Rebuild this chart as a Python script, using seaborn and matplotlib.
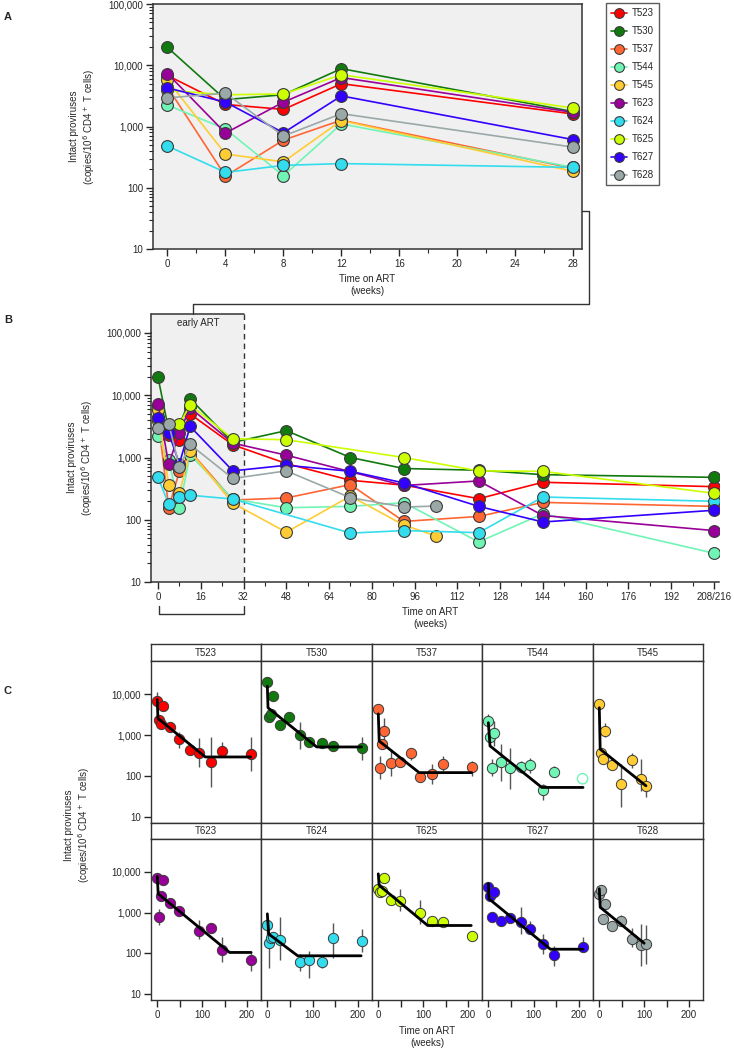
import numpy as np
import pandas as pd
import matplotlib
matplotlib.use("Agg")
import matplotlib.pyplot as plt
from matplotlib.lines import Line2D
from matplotlib.patches import Rectangle
from matplotlib.ticker import FuncFormatter, LogLocator, NullFormatter, MultipleLocator
import seaborn as sns

sns.set_style("ticks")
plt.rcParams['font.family'] = ['Liberation Sans', 'DejaVu Sans']
plt.rcParams['font.size'] = 7

# ---------------- data ----------------
participants = ["T523", "T530", "T537", "T544", "T545", "T623", "T624", "T625", "T627", "T628"]
colors = ["#ff0000", "#117a0e", "#ff6633", "#70f5b5", "#ffcc33",
          "#990099", "#33ddee", "#ccff00", "#3300ff", "#9aa8a8"]

weeks_T523 = [0, 4, 8, 12, 28, 48, 72, 92, 120, 144, 208]
vals_T523 = [6800, 2290, 1900, 5000, 1600, 800, 430, 360, 218, 400, 340]
weeks_T530 = [0, 4, 8, 12, 28, 48, 72, 92, 120, 144, 208]
vals_T530 = [19500, 2750, 3300, 8800, 1750, 2700, 1000, 665, 625, 530, 480]
weeks_T537 = [0, 4, 8, 12, 28, 48, 72, 92, 120, 144, 208]
vals_T537 = [4400, 155, 600, 1270, 207, 224, 367, 94, 113, 190, 164]
weeks_T544 = [0, 4, 8, 12, 28, 48, 72, 92, 120, 144, 208]
vals_T544 = [2240, 910, 157, 1100, 215, 156, 164, 188, 44, 125, 29]
weeks_T545 = [0, 4, 8, 12, 28, 48, 72, 92, 104]
vals_T545 = [5700, 355, 265, 1250, 185, 63, 240, 82, 55]
weeks_T623 = [0, 4, 8, 12, 28, 48, 92, 120, 144, 208]
vals_T623 = [7300, 780, 2500, 6300, 1700, 1090, 355, 420, 117, 67]
weeks_T624 = [0, 4, 8, 12, 28, 72, 92, 120, 144, 208]
vals_T624 = [480, 178, 232, 248, 215, 61, 67, 62, 232, 198]
weeks_T625 = [0, 4, 8, 12, 28, 48, 92, 120, 144, 208]
vals_T625 = [3900, 3300, 3400, 7000, 2000, 1930, 1000, 610, 600, 266]
weeks_T627 = [0, 4, 8, 12, 28, 48, 72, 92, 120, 144, 208]
vals_T627 = [4260, 2500, 790, 3160, 610, 750, 600, 390, 164, 92, 142]
weeks_T628 = [0, 4, 8, 12, 28, 48, 72, 92, 104]
vals_T628 = [2930, 3500, 700, 1620, 460, 610, 226, 160, 166]

nan = np.nan
# panel C error bars (low, high) aligned with the points above
lo_T523 = [4000, nan, nan, nan, nan, 490, nan, 165, 54, 310, 128]
hi_T523 = [11500, nan, nan, nan, nan, 1200, nan, 860, 890, 680, 890]
lo_T530 = [nan, nan, nan, nan, nan, nan, 450, nan, nan, nan, 245]
hi_T530 = [nan, nan, nan, nan, nan, nan, 2100, nan, nan, nan, 890]
lo_T537 = [nan, 83, nan, 590, 100, nan, 250, nan, 63, 130, 100]
hi_T537 = [nan, 310, nan, 2550, 410, nan, 470, nan, 190, 310, 230]
lo_T544 = [1500, nan, 100, 540, 75, 48, 120, 120, 25, 92, nan]
hi_T544 = [3200, nan, 255, 2200, 590, 490, 230, 280, 63, 175, nan]
lo_T545 = [nan, nan, nan, 870, nan, 17, 160, 43, 30]
hi_T545 = [nan, nan, nan, 2000, nan, 190, 370, 255, 75]
lo_T623 = [nan, 500, nan, nan, nan, nan, 220, nan, 60, 37]
hi_T623 = [nan, 1230, nan, nan, nan, nan, 660, nan, 245, 98]
lo_T624 = [245, 42, nan, nan, 68, 37, 24, 44, 78, 104]
hi_T624 = [770, 300, nan, nan, 770, 95, 115, 77, 540, 390]
lo_T625 = [2400, nan, nan, nan, nan, 1120, 520, nan, nan, 200]
hi_T625 = [7500, nan, nan, nan, nan, 3860, 2000, nan, nan, 360]
lo_T627 = [nan, nan, nan, nan, nan, nan, 300, 300, 95, 48, 105]
hi_T627 = [nan, nan, nan, nan, nan, nan, 1360, 630, 300, 150, 245]
lo_T628 = [nan, nan, nan, nan, nan, 480, 140, 49, 53]
hi_T628 = [nan, nan, nan, nan, nan, 890, 420, 520, 480]

# T544 last sample shown as excluded (open) point in panel C
excluded_T544_week = 208
excluded_T544_val = 85

# panel C fitted piecewise decay (knots)
fitw_T523 = [0, 1.5, 107, 208]; fitv_T523 = [7400, 2550, 290, 290]
fitw_T530 = [0, 1.5, 109, 208]; fitv_T530 = [15700, 4650, 510, 510]
fitw_T537 = [0, 2, 91, 208]; fitv_T537 = [3300, 713, 120, 120]
fitw_T544 = [0, 3.7, 118, 209]; fitv_T544 = [2000, 540, 52, 52]
fitw_T545 = [0, 2, 104]; fitv_T545 = [4650, 450, 57]
fitw_T623 = [0, 2, 161, 209]; fitv_T623 = [7800, 2900, 104, 104]
fitw_T624 = [0, 3, 67, 207]; fitv_T624 = [930, 296, 86, 86]
fitw_T625 = [0, 2, 110, 207]; fitv_T625 = [9000, 4680, 480, 480]
fitw_T627 = [0, 1.5, 137, 209]; fitv_T627 = [5140, 2180, 125, 125]
fitw_T628 = [0, 2, 100]; fitv_T628 = [3870, 1350, 175]

A_weeks = [0, 4, 8, 12, 28]
B_xticks = list(range(0, 209, 16))
B_xticklabels = [str(t) for t in B_xticks[:-1]] + ["208/216"]

G = globals()
rows = []
for p in participants:
    for w, v, lo, hi in zip(G["weeks_" + p], G["vals_" + p], G["lo_" + p], G["hi_" + p]):
        rows.append(dict(pid=p, week=w, value=v, lo=lo, hi=hi))
df = pd.DataFrame(rows)
pal = dict(zip(participants, colors))

# ---------------- figure ----------------
W, H = 734, 1050
fig = plt.figure(figsize=(W / 100, H / 100), dpi=100)


def box(l, t, r, b):
    return [l / W, 1 - b / H, (r - l) / W, (b - t) / H]


fmt = FuncFormatter(lambda v, p: f"{int(round(v)):,}")
EDGE = "#3a3a3a"
YLAB = "Intact proviruses\n(copies/10$^6$ CD4$^+$ T cells)"


def style_log_y(ax):
    ax.set_yscale("log")
    ax.set_ylim(10, 1e5)
    ax.yaxis.set_major_locator(LogLocator(base=10, numticks=10))
    ax.yaxis.set_minor_locator(LogLocator(base=10, subs=np.arange(2, 10), numticks=50))
    ax.yaxis.set_major_formatter(fmt)
    ax.yaxis.set_minor_formatter(NullFormatter())
    ax.tick_params(axis="both", which="major", length=5, width=1, labelsize=7, pad=2)
    ax.tick_params(axis="both", which="minor", length=3, width=0.8)


def draw_lines(ax, data, ms):
    sns.lineplot(data=data, x="week", y="value", hue="pid", palette=pal,
                 hue_order=participants, estimator=None, sort=True,
                 marker="o", markersize=ms, markeredgecolor=EDGE, markeredgewidth=0.8,
                 linewidth=1.2, legend=False, ax=ax)


# ---------- Panel A ----------
axA = fig.add_axes(box(153, 4, 582, 249))
axA.set_facecolor("#f0f0f0")
dA = df[df.week.isin(A_weeks)]
draw_lines(axA, dA, 8.5)
style_log_y(axA)
axA.set_xlim(-1, 28.6)
axA.set_xticks(range(0, 29, 4))
axA.xaxis.set_minor_locator(MultipleLocator(2))
for s in axA.spines.values():
    s.set_color("#333333"); s.set_linewidth(1.1)
axA.set_xlabel("Time on ART\n(weeks)", fontsize=7, labelpad=4)
axA.set_ylabel(YLAB, fontsize=7, labelpad=8)

# legend
handles = [Line2D([0], [0], color=c, marker="o", markersize=7, markeredgecolor=EDGE,
                  markeredgewidth=0.8, linewidth=1.2) for c in colors]
leg = fig.legend(handles, participants, loc="upper left",
                 bbox_to_anchor=(606 / W, 1 - 3 / H), fontsize=7, frameon=True,
                 fancybox=False, handlelength=1.6, handletextpad=0.5,
                 labelspacing=0.82, borderpad=0.55, borderaxespad=0)
leg.get_frame().set_edgecolor("#333333")
leg.get_frame().set_linewidth(1.0)

# ---------- Panel B ----------
axB = fig.add_axes(box(151, 333, 719, 582))
x0B, x1B = -2.62, 209.9
top_box = 2.02e5
axB.add_patch(Rectangle((x0B, 10), 32 - x0B, top_box - 10, facecolor="#f0f0f0",
                        edgecolor="none", zorder=0, clip_on=False))
axB.plot([x0B, 32], [top_box, top_box], color="#333333", lw=1.1, clip_on=False, zorder=1)
axB.plot([x0B, x0B], [1e5, top_box], color="#333333", lw=1.1, clip_on=False, zorder=1)
axB.plot([32, 32], [10, top_box], color="#333333", lw=1.0, ls=(0, (4, 3)), clip_on=False, zorder=1)
axB.text(15, 10 ** 5.16, "early ART", ha="center", va="center", fontsize=7)
draw_lines(axB, df, 8.5)
style_log_y(axB)
axB.set_xlim(x0B, x1B)
axB.set_xticks(B_xticks)
axB.set_xticklabels(B_xticklabels)
axB.xaxis.set_minor_locator(MultipleLocator(8))
sns.despine(ax=axB)
for s in ["left", "bottom"]:
    axB.spines[s].set_color("#333333"); axB.spines[s].set_linewidth(1.1)
axB.set_xlabel("")
axB.set_ylabel(YLAB, fontsize=7, labelpad=8)
fig.text(430 / W, 1 - 618 / H, "Time on ART\n(weeks)", ha="center", va="center", fontsize=7)

# connectors / brackets (figure pixel coordinates)
def fig_line(xs, ys, **kw):
    fig.add_artist(Line2D([x / W for x in xs], [1 - y / H for y in ys],
                          color="#333333", lw=1.0, **kw))

fig_line([582, 589, 589, 193, 193], [211, 211, 304, 304, 314])
fig_line([159, 159, 244, 244], [606, 614, 614, 606])

# ---------- Panel C ----------
col_edges = [151, 261, 372, 482, 593, 703]
row_defs = [(644, 661, 823), (823, 839, 1000)]
for i, p in enumerate(participants):
    r, c = divmod(i, 5)
    ht, pt, pb = row_defs[r]
    l, rr = col_edges[c], col_edges[c + 1]
    # header
    hax = fig.add_axes(box(l, ht, rr, pt))
    hax.set_xticks([]); hax.set_yticks([])
    hax.text(0.5, 0.5, p, ha="center", va="center", fontsize=7, transform=hax.transAxes)
    for s in hax.spines.values():
        s.set_linewidth(1.0); s.set_color("#333333")
    ax = fig.add_axes(box(l, pt, rr, pb))
    sub = df[df.pid == p]
    if p == "T544":
        sub = sub[sub.week != excluded_T544_week]
    eb = sub.dropna(subset=["lo"])
    ax.vlines(eb.week, eb.lo, eb.hi, color="#555555", lw=1.0, zorder=1)
    sns.scatterplot(data=sub, x="week", y="value", color=pal[p], s=55,
                    edgecolor=EDGE, linewidth=0.7, ax=ax, zorder=2, legend=False)
    if p == "T544":
        sns.scatterplot(x=[excluded_T544_week], y=[excluded_T544_val], s=55,
                        facecolor="none", edgecolor=pal[p], linewidth=1.0, ax=ax, zorder=2)
    sns.lineplot(x=G["fitw_" + p], y=G["fitv_" + p], color="black", lw=2.0,
                 estimator=None, sort=False, ax=ax, zorder=3)
    ax.set_yscale("log")
    ax.set_ylim(7, 65000)
    ax.set_xlim(-14, 231)
    ax.set_yticks([10, 100, 1000, 10000])
    ax.yaxis.set_major_formatter(fmt)
    ax.yaxis.set_minor_locator(plt.NullLocator())
    ax.xaxis.set_major_locator(MultipleLocator(50))
    ax.xaxis.set_major_formatter(FuncFormatter(lambda v, pos: f"{int(v)}" if int(v) % 100 == 0 else ""))
    ax.tick_params(axis="both", which="major", length=5, width=1, labelsize=7, pad=2)
    ax.set_xlabel(""); ax.set_ylabel("")
    if c != 0:
        ax.tick_params(axis="y", left=False, labelleft=False)
    if r == 0:
        ax.tick_params(axis="x", bottom=False, labelbottom=False)
    for s in ax.spines.values():
        s.set_linewidth(1.0); s.set_color("#333333")

fig.text(78 / W, 1 - 825 / H, YLAB, rotation=90, ha="center", va="center", fontsize=7)
fig.text(427 / W, 1 - 1037 / H, "Time on ART\n(weeks)", ha="center", va="center", fontsize=7)

# panel letters
for lab, y in [("A", 17), ("B", 320), ("C", 691)]:
    fig.text(4 / W, 1 - y / H, lab, ha="left", va="center", fontsize=8, fontweight="bold")

fig.savefig("out.png", dpi=100)
